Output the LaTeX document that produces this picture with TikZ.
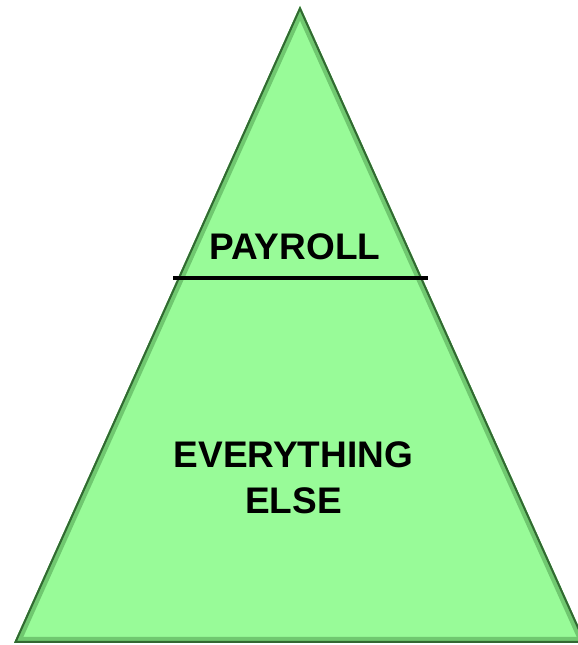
\documentclass[tikz,border=0pt]{standalone}
\usepackage{fontspec}
\setmainfont{Liberation Sans}
\usepackage{tikz}
\usepackage{xcolor}
\definecolor{pyrfill}{RGB}{152,251,152}
\definecolor{pyrmid}{RGB}{112,200,112}
\definecolor{pyrdark}{RGB}{50,105,50}

\begin{document}
\begin{tikzpicture}[x=1pt,y=1pt]
\useasboundingbox (0,0) rectangle (578,645);
\tikzset{lbl/.style={font=\fontsize{37}{46}\selectfont\bfseries, align=center, inner sep=0pt}}
\coordinate (top) at (300,639);
\coordinate (bl) at (14,2);
\coordinate (br) at (586,2);
\fill [pyrfill] (top) -- (bl) -- (br) -- cycle;
\begin{scope}
\clip (top) -- (bl) -- (br) -- cycle;
\draw [pyrmid, line width=12pt, line join=miter] (top) -- (bl) -- (br) -- cycle;
\draw [pyrdark, line width=4pt, line join=miter] (top) -- (bl) -- (br) -- cycle;
\end{scope}
%\fill [pyrfill] (top) -- (bl) -- (br) -- cycle;
\coordinate (cutl) at (173,367);
\coordinate (cutr) at (428,367);
\draw [line width=3.5pt] (cutl) -- (cutr);
\node [lbl] (pay) at (295,398.5) {PAYROLL};
\node [lbl] (rest) at (293.5,167.5) {EVERYTHING\\ELSE};
\end{tikzpicture}
\end{document}
